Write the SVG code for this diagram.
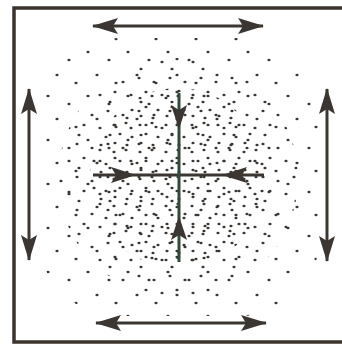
<svg xmlns="http://www.w3.org/2000/svg" width="342" height="352" viewBox="0 0 342 352">
<style>
.d{fill:#3a3631}
.ar{stroke:#3b3631;stroke-width:3;fill:none;marker-start:url(#h);marker-end:url(#h)}
.ln{stroke:#3b3631;stroke-width:3;fill:none}
.hd{fill:#3b3631}
</style>
<defs>
<marker id="h" viewBox="-26 -9 28 18" refX="0" refY="0" markerWidth="28" markerHeight="18" markerUnits="userSpaceOnUse" orient="auto-start-reverse">
<path d="M1,0 L-25,-8 L-20,0 L-25,8 Z" fill="#3b3631"/>
</marker>
<pattern id="p1" patternUnits="userSpaceOnUse" x="3" y="1" width="40" height="44">
<ellipse class="d" cx="5" cy="7" rx="1.6" ry="1.3"/><ellipse class="d" cx="26" cy="15" rx="1.6" ry="1.3"/><ellipse class="d" cx="14" cy="30" rx="1.6" ry="1.3"/><ellipse class="d" cx="33" cy="38" rx="1.6" ry="1.3"/>
</pattern>
<pattern id="p2" patternUnits="userSpaceOnUse" x="11" y="7" width="31" height="33">
<ellipse class="d" cx="4" cy="5" rx="1.6" ry="1.3"/><ellipse class="d" cx="19" cy="9" rx="1.6" ry="1.3"/><ellipse class="d" cx="11" cy="19" rx="1.6" ry="1.3"/><ellipse class="d" cx="27" cy="22" rx="1.6" ry="1.3"/><ellipse class="d" cx="6" cy="29" rx="1.6" ry="1.3"/>
</pattern>
<pattern id="p3" patternUnits="userSpaceOnUse" x="7" y="13" width="26" height="27">
<ellipse class="d" cx="3" cy="4" rx="1.6" ry="1.3"/><ellipse class="d" cx="15" cy="2" rx="1.6" ry="1.3"/><ellipse class="d" cx="9" cy="13" rx="1.6" ry="1.3"/><ellipse class="d" cx="21" cy="16" rx="1.6" ry="1.3"/><ellipse class="d" cx="4" cy="22" rx="1.6" ry="1.3"/><ellipse class="d" cx="16" cy="24" rx="1.6" ry="1.3"/>
</pattern>
<clipPath id="c1"><rect x="38" y="38" width="282" height="278" rx="80"/></clipPath>
<clipPath id="c2"><ellipse cx="178" cy="178" rx="120" ry="120"/></clipPath>
<clipPath id="c3"><ellipse cx="178" cy="178" rx="88" ry="90"/></clipPath>
</defs>
<rect width="342" height="352" fill="#ffffff"/>
<g id="frame">
<path d="M342,8 H14 V342 H342" fill="none" stroke="#3b342c" stroke-width="3.5"/>
</g>
<g id="dots">
<rect x="30" y="30" width="300" height="300" fill="url(#p1)" clip-path="url(#c1)"/>
<rect x="30" y="30" width="300" height="300" fill="url(#p2)" clip-path="url(#c2)"/>
<rect x="30" y="30" width="300" height="300" fill="url(#p3)" clip-path="url(#c3)"/>
</g>
<g id="connectors">
<line id="top-arrow" class="ar" x1="93" y1="26" x2="263" y2="26"/>
<line id="bottom-arrow" class="ar" x1="96" y1="323" x2="266" y2="323"/>
<line id="left-arrow" class="ar" x1="29" y1="89" x2="29" y2="260"/>
<line id="right-arrow" class="ar" x1="327" y1="89" x2="327" y2="261"/>
<g id="center-cross">
<line class="ln" x1="93" y1="175" x2="264" y2="175"/>
<line x1="179" y1="93" x2="179" y2="262" stroke="#2e4a3c" stroke-width="3"/>
<path class="hd" d="M136,175 L111,167 L116,175 L111,183 Z"/>
<path class="hd" d="M222,175 L247,167 L242,175 L247,183 Z"/>
<path class="hd" d="M179,129 L171,105 L179,110 L187,105 Z"/>
<path class="hd" d="M179,216 L171,240 L179,235 L187,240 Z"/>
</g>
</g>
</svg>
